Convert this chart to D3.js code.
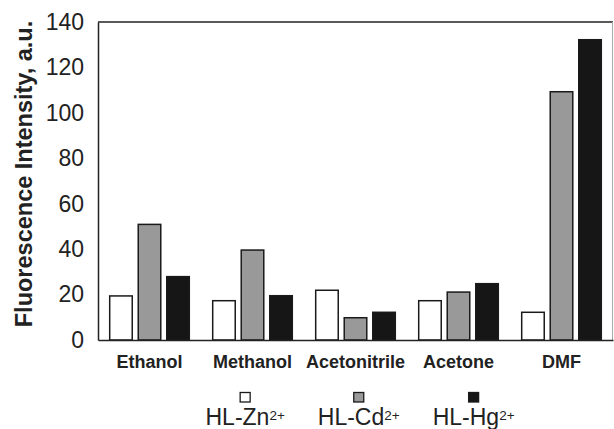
<!DOCTYPE html>
<html>
<head>
<meta charset="utf-8">
<script src="https://cdn.jsdelivr.net/npm/d3@7"></script>
<style>
  html, body { margin: 0; padding: 0; background: #fff; }
  svg { display: block; font-family: "Liberation Sans", Arial, sans-serif; }
</style>
</head>
<body>
<script>
const categories = ["Ethanol", "Methanol", "Acetonitrile", "Acetone", "DMF"];
const seriesNames = ["Zn", "Cd", "Hg"];
const znValues = [19.4, 17.3, 21.9, 17.3, 12.2];
const cdValues = [50.9, 39.6, 9.8, 21.1, 109.3];
const hgValues = [27.9, 19.5, 12.2, 24.8, 132.2];
const yTicks = [0, 20, 40, 60, 80, 100, 120, 140];
const yTitle = "Fluorescence Intensity, a.u.";

const seriesValues = [znValues, cdValues, hgValues];
const fills = ["#ffffff", "#999999", "#161616"];

const W = 614, H = 429;
const mLeft = 98, mRight = 613, mTop = 22, mBottom = 340;
const FONT = "'Liberation Sans', Arial, sans-serif";

const svg = d3.select("body").append("svg").attr("width", W).attr("height", H);

const x0 = d3.scaleBand().domain(categories).range([mLeft, mRight]).padding(0);
const x1 = d3.scaleBand().domain(seriesNames).range([0, x0.bandwidth()])
  .paddingInner(0.21).paddingOuter(0.41);
const y = d3.scaleLinear().domain([0, 140]).range([mBottom, mTop]);

// frame: top and right
svg.append("line").attr("x1", mLeft).attr("x2", mRight).attr("y1", mTop).attr("y2", mTop)
  .attr("stroke", "#222").attr("stroke-width", 1.5);
svg.append("line").attr("x1", mRight - 0.5).attr("x2", mRight - 0.5).attr("y1", mTop).attr("y2", mBottom)
  .attr("stroke", "#aaa").attr("stroke-width", 1);

// bars
const groups = svg.append("g").selectAll("g").data(categories).join("g")
  .attr("transform", d => `translate(${x0(d)},0)`);
groups.selectAll("rect")
  .data((c, ci) => seriesNames.map((s, si) => ({ s, si, v: seriesValues[si][ci] })))
  .join("rect")
  .attr("x", d => x1(d.s))
  .attr("width", x1.bandwidth())
  .attr("y", d => y(d.v))
  .attr("height", d => y(0) - y(d.v))
  .attr("fill", d => fills[d.si])
  .attr("stroke", "#1a1a1a")
  .attr("stroke-width", 1.5);

// y axis
const yAxis = svg.append("g").attr("transform", `translate(${mLeft},0)`)
  .call(d3.axisLeft(y).tickValues(yTicks).tickSize(0).tickPadding(14));
yAxis.select(".domain").attr("stroke", "#222").attr("stroke-width", 1.5);
yAxis.selectAll("text").attr("font-size", 23).attr("fill", "#222")
  .attr("font-family", FONT);

// x axis
const xAxis = svg.append("g").attr("transform", `translate(0,${mBottom})`)
  .call(d3.axisBottom(x0).tickSize(0).tickPadding(0));
xAxis.select(".domain").attr("stroke", "#222").attr("stroke-width", 1.5);
xAxis.selectAll("text").attr("font-size", 18).attr("font-weight", "bold").attr("fill", "#222")
  .attr("font-family", FONT)
  .attr("dy", null).attr("y", 28);

// y title
svg.append("text")
  .attr("transform", `translate(31.5,174) rotate(-90)`)
  .attr("text-anchor", "middle")
  .attr("font-size", 23.5).attr("font-weight", "bold").attr("fill", "#222")
  .text(yTitle);

// legend
const legend = svg.append("g");
let lx = 205.5;
const gap = 33;
seriesNames.forEach((s, i) => {
  const t = legend.append("text").attr("x", lx).attr("y", 425)
    .attr("font-size", 23).attr("fill", "#222");
  t.append("tspan").text("HL-" + s);
  t.append("tspan").attr("font-size", 13.5).attr("dy", -5.5).text("2+");
  const w = t.node().getComputedTextLength();
  const cx = lx + w / 2;
  legend.append("rect").attr("x", cx - 5).attr("y", 392.5).attr("width", 10).attr("height", 9.5)
    .attr("fill", fills[i]).attr("stroke", "#1a1a1a").attr("stroke-width", 1.3);
  lx += w + gap;
});
</script>
</body>
</html>
